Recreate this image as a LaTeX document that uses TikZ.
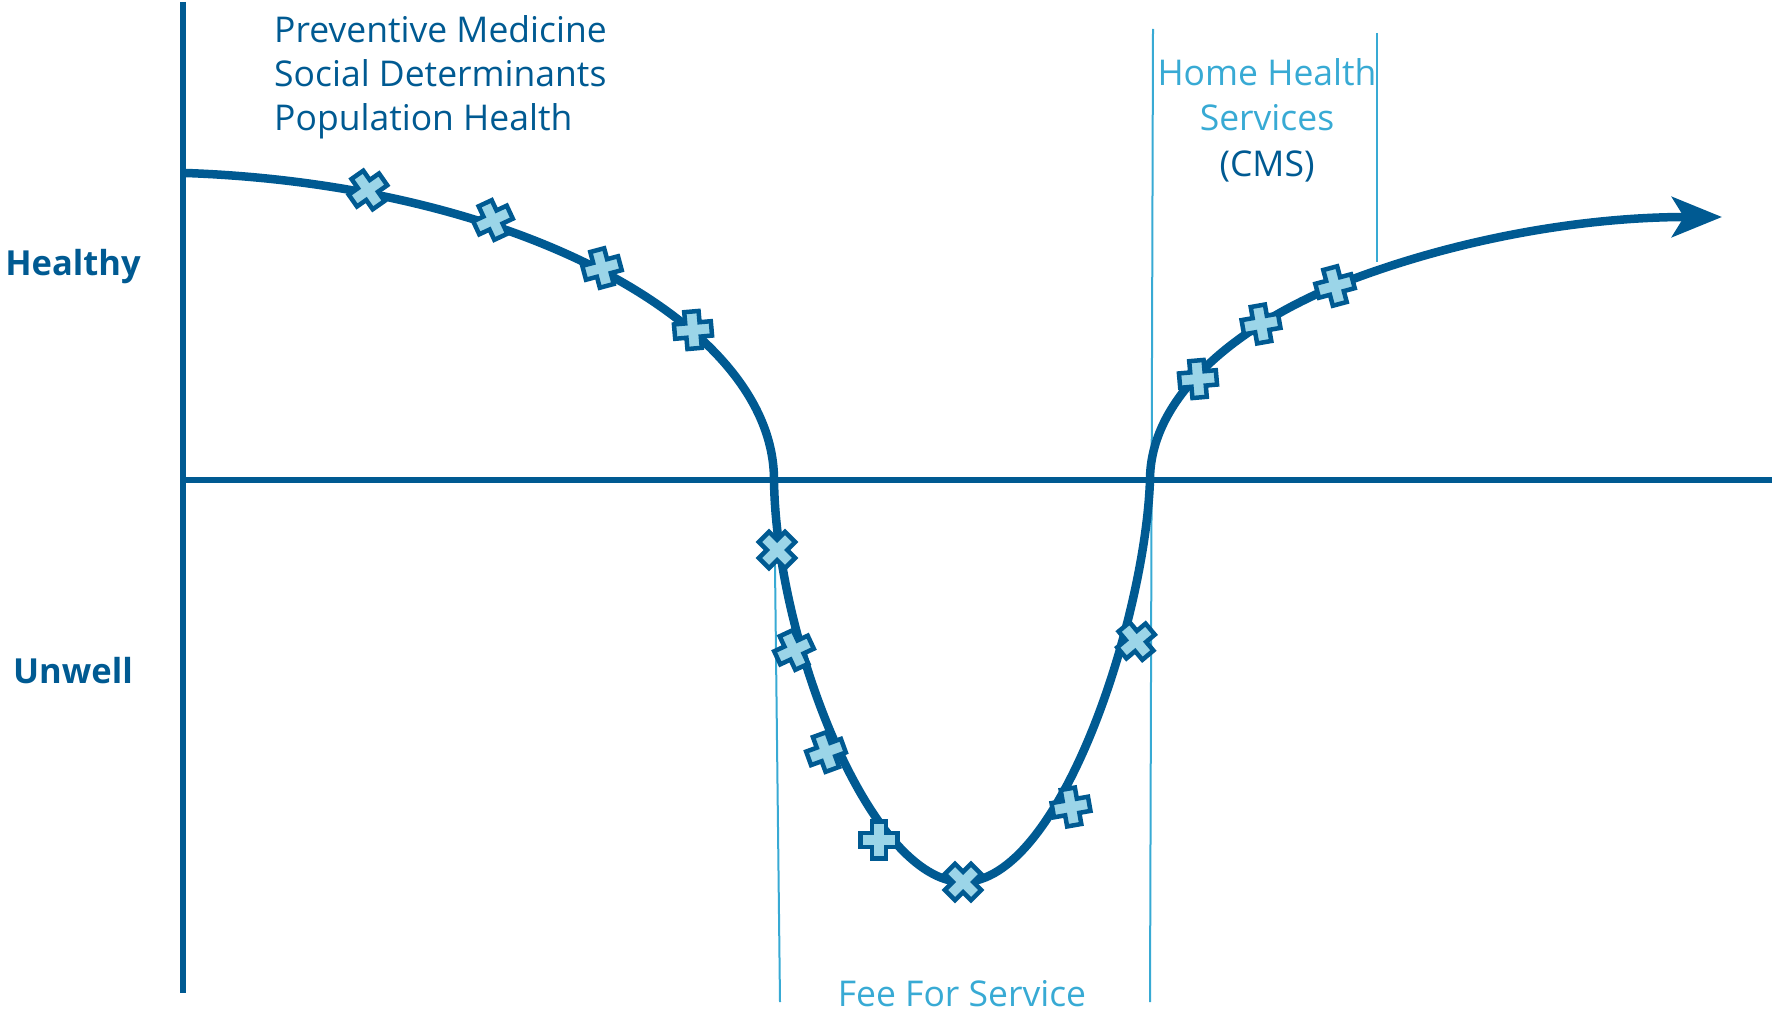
\documentclass[tikz,border=0pt]{standalone}
\usepackage{fontspec}
\setmainfont{Open Sans}
\usetikzlibrary{arrows.meta}
\definecolor{dblue}{HTML}{005A92}
\definecolor{lblue}{HTML}{38AAD4}
\definecolor{xfill}{HTML}{9BD5E8}
\tikzset{
  axis/.style={draw=dblue, line width=6.5pt},
  curve/.style={draw=dblue, line width=8.5pt},
  guide/.style={draw=lblue, line width=2pt},
  lbl/.style={font=\fontsize{35.5}{42}\selectfont, inner sep=0pt},
  side/.style={font=\fontsize{34.5}{42}\selectfont\bfseries, text=dblue, inner sep=0pt},
  mk/.pic={\draw[draw=dblue, fill=xfill, line width=4.5pt, line join=miter]
     (-7.2,-18.5) -- (7.2,-18.5) -- (7.2,-7.2) -- (18.5,-7.2) -- (18.5,7.2) -- (7.2,7.2) -- (7.2,18.5)
     -- (-7.2,18.5) -- (-7.2,7.2) -- (-18.5,7.2) -- (-18.5,-7.2) -- (-7.2,-7.2) -- cycle;}
}
\begin{document}
\begin{tikzpicture}[x=1pt,y=-1pt]
\useasboundingbox (0,0) rectangle (1772,1014);
% guide lines
\coordinate (g1a) at (774,480); \coordinate (g1b) at (780,1002);
\coordinate (g2a) at (1153,29); \coordinate (g2b) at (1150,1002);
\coordinate (g3a) at (1377,33); \coordinate (g3b) at (1377,262);
\draw[guide] (g1a) -- (g1b);
\draw[guide] (g2a) -- (g2b);
\draw[guide] (g3a) -- (g3b);
% axes
\coordinate (o) at (183,480);
\coordinate (ytop) at (183,2);
\coordinate (ybot) at (183,993);
\coordinate (xend) at (1772,480);
\draw[axis] (ytop) -- (ybot);
\draw[axis] (o) -- (xend);
% curve
\coordinate (c0) at (186,173);
\coordinate (c1) at (774,480);
\coordinate (c2) at (963,882);
\coordinate (c3) at (1150,480);
\coordinate (c4) at (1335,286);
\coordinate (c5) at (1722,217);
\draw[curve, -{Stealth[length=50pt,width=40pt,inset=12pt]}]
  (c0) .. controls (520,185) and (774,325) .. (c1)
       .. controls (776,640) and (870,882) .. (c2)
       .. controls (1060,882) and (1145,620) .. (c3)
       .. controls (1150,400) and (1230,330) .. (c4)
       .. controls (1450,240) and (1580,217) .. (c5);
% markers
\pic[rotate=35] at (368,190) {mk};
\pic[rotate=25] at (493,220) {mk};
\pic[rotate=15] at (602,268) {mk};
\pic[rotate=5] at (693,330) {mk};
\pic[rotate=45] at (777,550) {mk};
\pic[rotate=25] at (794,650) {mk};
\pic[rotate=20] at (826,752) {mk};
\pic[rotate=0] at (879,840) {mk};
\pic[rotate=45] at (963,882) {mk};
\pic[rotate=10] at (1071,807) {mk};
\pic[rotate=40] at (1136,641) {mk};
\pic[rotate=5] at (1198,379) {mk};
\pic[rotate=10] at (1261,324) {mk};
\pic[rotate=15] at (1335,286) {mk};
% texts
\node[lbl, text=dblue, anchor=base west] (t1) at (274,43) {Preventive Medicine};
\node[lbl, text=dblue, anchor=base west] (t2) at (274,87) {Social Determinants};
\node[lbl, text=dblue, anchor=base west] (t3) at (274,131) {Population Health};
\node[side, anchor=base] (healthy) at (73,275) {Healthy};
\node[side, anchor=base] (unwell) at (73,683) {Unwell};
\node[lbl, text=lblue, anchor=base] (hh1) at (1267,86) {Home Health};
\node[lbl, text=lblue, anchor=base] (hh2) at (1267,131) {Services};
\node[lbl, text=dblue, anchor=base] (hh3) at (1267,176) {(CMS)};
\node[lbl, text=lblue, anchor=base] (ffs) at (962,1006) {Fee For Service};
\end{tikzpicture}
\end{document}
